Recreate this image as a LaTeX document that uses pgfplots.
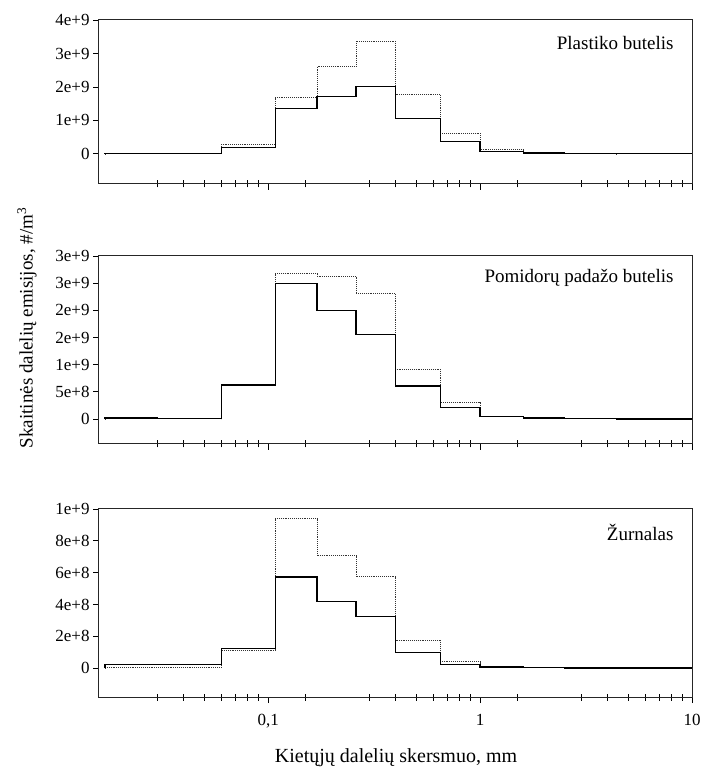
\documentclass[border=0pt]{standalone}
\usepackage{pgfplots}
\usepackage{pgfplotstable}
\pgfplotsset{compat=1.18}
\usepackage{fontspec}
\setmainfont{Liberation Serif}

% Particle number emissions per ELPI size stage (lower cut, value);
% s = solid curve, d = dotted curve
\pgfplotstableread{
x      s        d
0.017  0        0
0.017  2.0e7    5e6
0.03   5e6      3e6
0.06   2.0e8    2.9e8
0.108  1.35e9   1.68e9
0.17   1.72e9   2.62e9
0.26   2.01e9   3.36e9
0.4    1.065e9  1.77e9
0.65   3.8e8    6.2e8
1.0    7e7      1.2e8
1.6    3e7      5e7
2.5    5e6      1e7
4.4    2e6      3e6
10     2e6      3e6
}\plastikas

\pgfplotstableread{
x      s        d
0.017  0        0
0.017  1.8e7    5e6
0.03   6e6      2e6
0.06   6.24e8   6.4e8
0.108  2.50e9   2.67e9
0.17   2.00e9   2.63e9
0.26   1.55e9   2.31e9
0.4    6.1e8    9.2e8
0.65   2.14e8   3.1e8
1.0    5.0e7    5.5e7
1.6    1.8e7    1.2e7
2.5    6e6      3e6
4.4    2e6      1e6
10     2e6      1e6
}\pomidorai

\pgfplotstableread{
x      s        d
0.017  0        0
0.017  2.3e7    1e6
0.03   2.3e7    1e6
0.06   1.23e8   1.13e8
0.108  5.73e8   9.39e8
0.17   4.20e8   7.07e8
0.26   3.22e8   5.73e8
0.4    9.6e7    1.76e8
0.65   2.3e7    4.0e7
1.0    6e6      1.0e7
1.6    2e6      2e6
2.5    1e6      1e6
4.4    0        0
10     0        0
}\zurnalas

\newcommand{\tickfont}{\fontsize{17}{17}\selectfont}
\newcommand{\labfont}{\fontsize{19}{19}\selectfont}

\pgfplotsset{
  every axis/.append style={
    scale only axis, width=593pt,
    xmin=0.0159, xmax=10,
    xtick={0.1,1,10},
    minor xtick={0.03,0.04,0.05,0.06,0.07,0.08,0.09,0.15,0.3,0.4,0.5,0.6,0.7,0.8,0.9,1.5,3,4,5,6,7,8,9},
    xtick pos=left, ytick pos=left,
    tick align=outside,
    major tick length=6pt, minor tick length=7pt,
    tick style={black, line width=0.8pt},
    minor x tick style={yshift=3.5pt},
    axis line style={black!85, line width=1pt},
    tick label style={font=\tickfont},
    scaled y ticks=false,
    clip=false,
    anchor=south west,
  },
}

\begin{document}
\begin{tikzpicture}
\useasboundingbox (0pt,0pt) rectangle (701pt,777pt);

% Plastic bottle
\begin{semilogxaxis}[at={(99pt,593pt)}, height=164pt,
  ymin=-0.9e9, ymax=4e9, xticklabels={},
  ytick={0,1e9,2e9,3e9,4e9}, yticklabels={0,1e+9,2e+9,3e+9,4e+9}]
  \addplot[black!80, line width=0.9pt, densely dotted, const plot mark left, no marks] table[x=x, y=d] {\plastikas};
  \addplot[black, line width=1.3pt, const plot mark left, no marks] table[x=x, y=s] {\plastikas};
  \node[anchor=east, font=\labfont] at (rel axis cs:1,1) [xshift=-15pt, yshift=-23pt] {Plastiko butelis};
\end{semilogxaxis}

% Tomato sauce bottle
\begin{semilogxaxis}[at={(99pt,333pt)}, height=188pt,
  ymin=-0.46e9, ymax=3e9, xticklabels={},
  ytick={0,0.5e9,1e9,1.5e9,2e9,2.5e9,3e9},
  yticklabels={0,5e+8,1e+9,2e+9,2e+9,3e+9,3e+9}]
  \addplot[black!80, line width=0.9pt, densely dotted, const plot mark left, no marks] table[x=x, y=d] {\pomidorai};
  \addplot[black, line width=1.3pt, const plot mark left, no marks] table[x=x, y=s] {\pomidorai};
  \node[anchor=east, font=\labfont] at (rel axis cs:1,1) [xshift=-15pt, yshift=-22pt] {Pomidorų padažo butelis};
\end{semilogxaxis}

% Magazine
\begin{semilogxaxis}[at={(99pt,80pt)}, height=188pt,
  ymin=-0.182e9, ymax=1e9,
  ytick={0,2e8,4e8,6e8,8e8,1e9},
  yticklabels={0,2e+8,4e+8,6e+8,8e+8,1e+9},
  xticklabels={{0,1},1,10},
  xticklabel style={yshift=-8pt}]
  \addplot[black!80, line width=0.9pt, densely dotted, const plot mark left, no marks] table[x=x, y=d] {\zurnalas};
  \addplot[black, line width=1.3pt, const plot mark left, no marks] table[x=x, y=s] {\zurnalas};
  \node[anchor=east, font=\labfont] at (rel axis cs:1,1) [xshift=-15pt, yshift=-23pt] {Žurnalas};
\end{semilogxaxis}

\node[font=\fontsize{20}{20}\selectfont] at (396pt,19pt) {Kietųjų dalelių skersmuo, mm};
\node[font=\labfont, rotate=90] at (27pt,449pt) {Skaitinės dalelių emisijos, \#/m\textsuperscript{3}};
\end{tikzpicture}
\end{document}
